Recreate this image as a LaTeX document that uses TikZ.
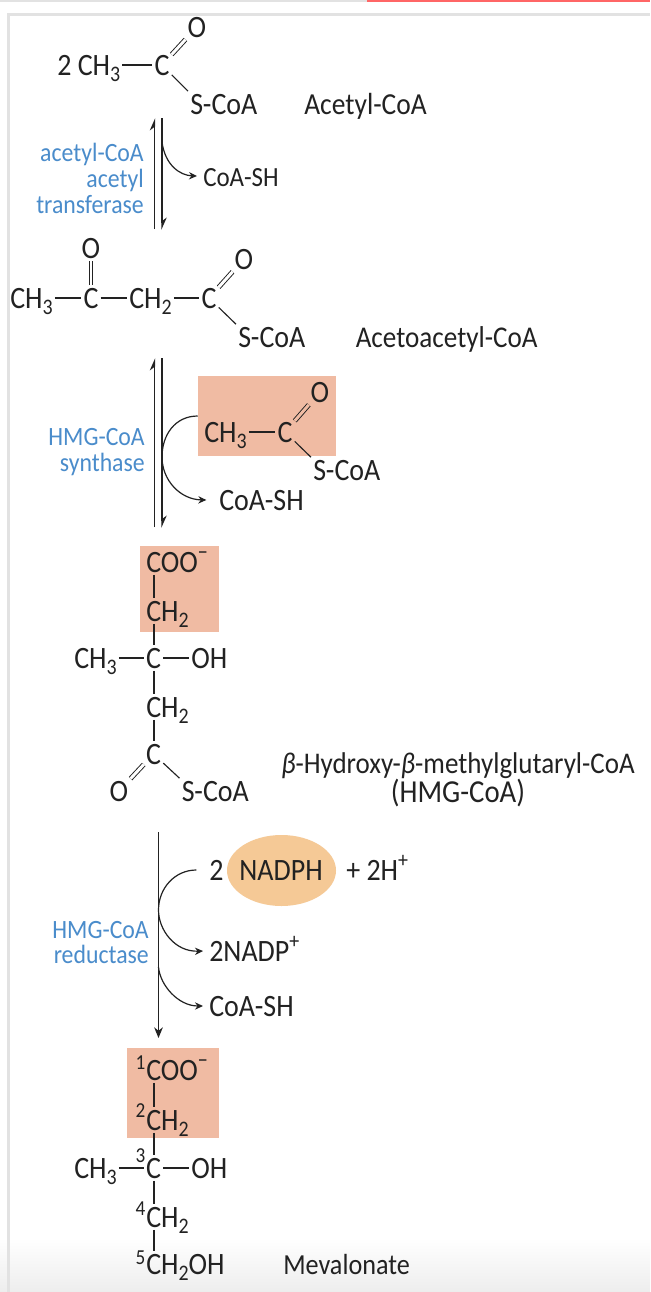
\documentclass[tikz,border=0pt]{standalone}
\usepackage{fontspec}
\setmainfont[FakeStretch=0.9]{Carlito}
\usetikzlibrary{arrows.meta,calc,shapes.geometric}
\definecolor{enz}{HTML}{4A8CCB}
\definecolor{boxc}{HTML}{F0BBA3}
\definecolor{nadc}{HTML}{F5C996}
\definecolor{framec}{HTML}{E2E2E2}
\definecolor{ink}{HTML}{222222}
\newcommand{\sbs}[1]{\raisebox{-4.8pt}{\fontsize{16.6}{16.6}\selectfont #1}}
\newcommand{\sps}[1]{\raisebox{9.5pt}{\fontsize{16.6}{16.6}\selectfont #1}}
\newcommand{\lnum}[2]{\llap{\raisebox{#1}{\fontsize{16}{16}\selectfont #2}\kern0.6pt}}
\tikzset{
  atom/.style={inner ysep=0pt,inner xsep=1.5pt,text height=16.9pt,text depth=1.9pt,font=\fontsize{23.3}{23.3}\selectfont,text=ink},
  small/.style={atom,font=\fontsize{20.8}{20.8}\selectfont},
  namea/.style={atom,font=\fontsize{22.9}{22.9}\selectfont},
  enzyme/.style={inner sep=0pt,align=right,anchor=east,text=enz,font=\fontsize{19.8}{19.3}\selectfont},
  bond/.style={draw=ink,line width=0.85pt},
  dbl/.style={draw=ink,double=white,double distance=2.2pt,line width=0.7pt},
  dblbox/.style={dbl,double=boxc},
  rxn/.style={draw=ink,line width=1.1pt},
  side/.style={draw=ink,line width=0.9pt,-{Stealth[length=6pt,width=5.5pt]}},
  tintbox/.style={fill=boxc,inner sep=0pt,draw=none},
}
\begin{document}
\begin{tikzpicture}[x=0.75pt,y=-0.75pt]
\useasboundingbox (0,0) rectangle (650,1292);
% page chrome
\fill[white] (0,0) rectangle (650,1292);
\shade[top color=white,bottom color=black!7] (0,1238) rectangle (650,1292);
\fill[framec] (0,0) rectangle (367,1.5);
\fill[red!60!white] (367,0) rectangle (650,1.5);
\fill[framec] (7,13) rectangle (650,16);
\fill[framec] (7,13) rectangle (10,1292);
% tinted boxes
\node[tintbox,minimum width=103.5pt,minimum height=60pt] (accbox) at (267,416) {};
\node[tintbox,minimum width=59pt,minimum height=64.5pt] (hmgbox) at (179.25,589) {};
\node[tintbox,minimum width=69pt,minimum height=67.5pt] (mevbox) at (172.75,1093) {};
\node[fill=nadc,shape=ellipse,inner sep=0pt,minimum width=81.75pt,minimum height=53.25pt] (nadell) at (281.5,870.5) {};
% guide coordinates
\coordinate (cx) at (154,0);
% acetyl-CoA
\node[atom,anchor=west] (a2) at (55,65) {2 CH\sbs{3}};
\node[atom] (ac) at (162,65) {C};
\node[atom] (ao) at (197,27) {O};
\node[atom,anchor=west] (as) at (188,104) {S-CoA};
\node[namea,anchor=west] (aname) at (302,104) {Acetyl-CoA};
\draw[bond] (a2.east) -- (ac.west);
\draw[dbl] (ac) -- (ao);
\draw[bond] (ac) -- (as.north west);
% first reaction
\coordinate (r1u0) at (154.5,229);
\coordinate (r1u1) at (154.5,118);
\coordinate (r1d0) at (162,118);
\coordinate (r1d1) at (162,230);
\coordinate (r1s) at (162,142);
\draw[rxn,-{Stealth[harpoon,length=8pt,width=7pt]}] (r1u0) -- (r1u1);
\draw[rxn,-{Stealth[harpoon,length=8pt,width=7pt]}] (r1d0) -- (r1d1);
\node[small,anchor=west] (r1co) at (201,176) {CoA-SH};
\draw[side] (r1s) .. controls (165,165) and (180,175.5) .. ([xshift=-3pt]r1co.west);
\node[enzyme] (e1) at (144,178.5) {acetyl-CoA\\acetyl\\transferase};
% acetoacetyl-CoA
\node[atom,anchor=west] (b1) at (8,298) {CH\sbs{3}};
\node[atom] (b2) at (91,298) {C};
\node[atom] (b2o) at (91,248) {O};
\node[atom,anchor=west] (b3) at (127,298) {CH\sbs{2}};
\node[atom] (b4) at (209,298) {C};
\node[atom] (b4o) at (244,259) {O};
\node[atom,anchor=west] (bs) at (236,337) {S-CoA};
\node[atom,font=\fontsize{22.6}{22.6}\selectfont,anchor=west] (bname) at (353.5,337) {Acetoacetyl-CoA};
\draw[bond] (b1.east) -- (b2.west);
\draw[bond] (b2.east) -- (b3.west);
\draw[bond] (b3.east) -- (b4.west);
\draw[dbl] (b2) -- (b2o);
\draw[dbl] (b4) -- (b4o);
\draw[bond] (b4) -- (bs.north west);
% second reaction
\coordinate (r2u0) at (154.5,527);
\coordinate (r2u1) at (154.5,358);
\coordinate (r2d0) at (162,358);
\coordinate (r2d1) at (162,528);
\draw[rxn,-{Stealth[harpoon,length=8pt,width=7pt]}] (r2u0) -- (r2u1);
\draw[rxn,-{Stealth[harpoon,length=8pt,width=7pt]}] (r2d0) -- (r2d1);
\node[atom,anchor=west] (c1) at (202,432) {CH\sbs{3}};
\node[atom] (c2) at (285,432) {C};
\node[atom] (c2o) at (320,392) {O};
\node[atom,anchor=west] (cs) at (311,470) {S-CoA};
\node[atom,anchor=west] (cco) at (217,500) {CoA-SH};
\draw[bond] (c1.east) -- (c2.west);
\draw[dblbox] (c2) -- (c2o);
\draw[bond] (c2) -- (cs.north west);
\draw[side] (accbox.west) .. controls (175,416) and (162,435) .. (162,457) .. controls (162,480) and (180,499.5) .. ([xshift=-8pt]cco.west);
\node[enzyme] (e2) at (145,452) {HMG-CoA\\synthase};
% HMG-CoA
\node[atom,anchor=west] (d1) at (144,562) {COO\sps{−}};
\node[atom,anchor=west] (d2) at (144,611) {CH\sbs{2}};
\node[atom] (d3) at (153.5,658) {C};
\node[atom,anchor=west] (d3l) at (72,658) {CH\sbs{3}};
\node[atom,anchor=west] (d3r) at (189,658) {OH};
\node[atom,anchor=west] (d4) at (144,707) {CH\sbs{2}};
\node[atom] (d5) at (153.5,754) {C};
\node[atom] (d5o) at (119,791) {O};
\node[atom,anchor=west] (ds) at (179.5,791) {S-CoA};
\draw[bond] (d1.south -| cx) -- (d2.north -| cx);
\draw[bond] (d2.south -| cx) -- (d3.north -| cx);
\draw[bond] (d3.south -| cx) -- (d4.north -| cx);
\draw[bond] (d4.south -| cx) -- (d5.north -| cx);
\draw[bond] (d3l.east) -- (d3.west);
\draw[bond] (d3.east) -- (d3r.west);
\draw[dbl] (d5) -- (d5o);
\draw[bond] (d5) -- (ds.north west);
\node[atom,font=\fontsize{22.5}{22.5}\selectfont] (dname) at (458,763) {\textit{β}-Hydroxy-\textit{β}-methylglutaryl-CoA};
\node[atom,font=\fontsize{24}{24}\selectfont] (dname2) at (458,792) {(HMG-CoA)};
% third reaction
\coordinate (r3a) at (158.5,832);
\coordinate (r3b) at (158.5,1038);
\coordinate (r3s) at (158.5,967);
\draw[rxn,-{Stealth[length=8pt,width=6.5pt]}] (r3a) -- (r3b);
\node[atom,anchor=west] (two) at (207,870) {2};
\node[atom] (nad) at (281,870) {NADPH};
\node[atom,anchor=west] (plus) at (344,870) {+ 2H\sps{+}};
\node[atom,anchor=west] (nadp) at (207,951) {2NADP\sps{+}};
\node[atom,anchor=west] (eco) at (207,1006) {CoA-SH};
\draw[side] ([xshift=-8pt]two.west) .. controls (175,870) and (158.5,888) .. (158.5,910) .. controls (158.5,930) and (175,952) .. ([xshift=-3pt]nadp.west);
\draw[side] (r3s) .. controls (160,985) and (178,1006) .. ([xshift=-3pt]eco.west);
\node[enzyme] (e3) at (149,942.5) {HMG-CoA\\reductase};
% mevalonate
\node[atom,anchor=west] (f1) at (144,1070) {\lnum{7.8pt}{1}COO\sps{−}};
\node[atom,anchor=west] (f2) at (144,1120) {\lnum{9.3pt}{2}CH\sbs{2}};
\node[atom] (f3) at (153.5,1168) {\lnum{11.5pt}{3}C};
\node[atom,anchor=west] (f3l) at (72,1168) {CH\sbs{3}};
\node[atom,anchor=west] (f3r) at (189,1168) {OH};
\node[atom,anchor=west] (f4) at (144,1217) {\lnum{9pt}{4}CH\sbs{2}};
\node[atom,anchor=west] (f5) at (144,1264) {\lnum{7pt}{5}CH\sbs{2}OH};
\node[atom,font=\fontsize{21.8}{21.8}\selectfont,anchor=west] (fname) at (281,1264) {Mevalonate};
\draw[bond] (f1.south -| cx) -- (f2.north -| cx);
\draw[bond] (f2.south -| cx) -- (f3.north -| cx);
\draw[bond] (f3.south -| cx) -- (f4.north -| cx);
\draw[bond] (f4.south -| cx) -- (f5.north -| cx);
\draw[bond] (f3l.east) -- (f3.west);
\draw[bond] (f3.east) -- (f3r.west);
\end{tikzpicture}
\end{document}
